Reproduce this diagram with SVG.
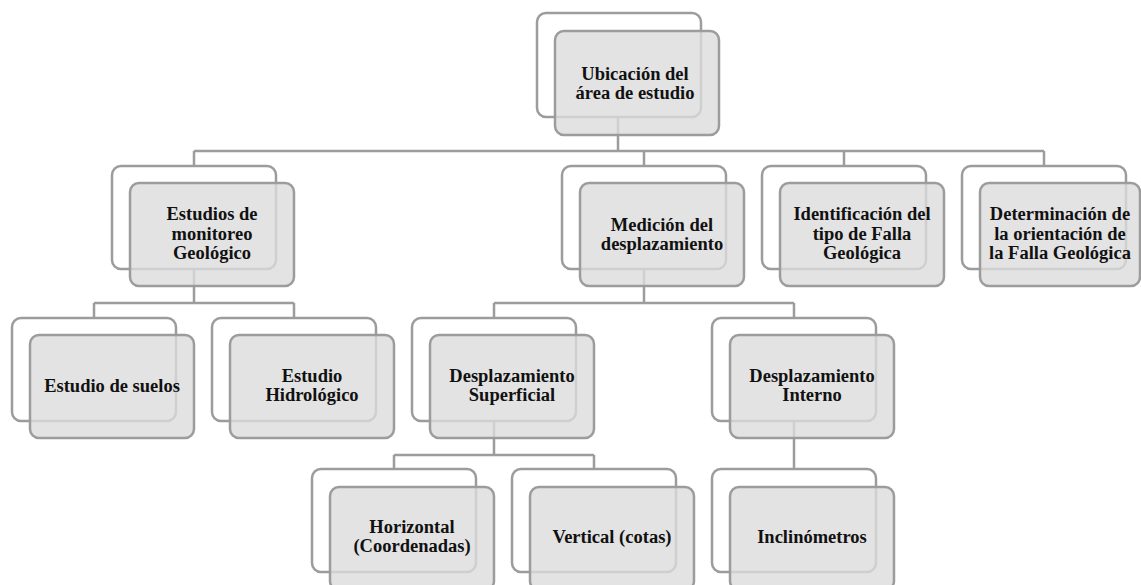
<svg xmlns="http://www.w3.org/2000/svg" width="1141" height="585" viewBox="0 0 1141 585">
<style>
.bg{fill:#ffffff}
.back{fill:#ffffff;stroke:#9c9c9c;stroke-width:2.5}
.front{fill:#dcdcdc;fill-opacity:0.8;stroke:#9c9c9c;stroke-width:2.5}
.conn{fill:none;stroke:#9c9c9c;stroke-width:2.5}
text{font-family:"Liberation Serif","Times New Roman",serif;font-weight:bold;font-size:18.5px;fill:#111;text-anchor:middle}
</style>
<rect class="bg" x="0" y="0" width="1141" height="585"/>
<g id="connectors">
<path class="conn" d="M618,117 V151 M194,151 H1044 M194,151 V166 M644,151 V166 M844,151 V166 M1044,151 V166"/>
<path class="conn" d="M194,269 V303 M94,303 H294 M94,303 V318 M294,303 V318"/>
<path class="conn" d="M644,269 V303 M494,303 H794 M494,303 V318 M794,303 V318"/>
<path class="conn" d="M494,421 V455 M394,455 H594 M394,455 V469 M594,455 V469"/>
<path class="conn" d="M794,421 V469"/>
</g>
<g id="n-ubicacion">
<rect class="back" x="537" y="13" width="164" height="104" rx="9"/>
<rect class="front" x="555" y="31" width="164" height="104" rx="9"/>
<text x="635" y="80">Ubicación del</text>
<text x="635" y="99">área de estudio</text>
</g>
<g id="n-monitoreo">
<rect class="back" x="112" y="166" width="164" height="103" rx="9"/>
<rect class="front" x="130" y="183" width="164" height="103" rx="9"/>
<text x="212" y="220">Estudios de</text>
<text x="212" y="239.5">monitoreo</text>
<text x="212" y="259">Geológico</text>
</g>
<g id="n-medicion">
<rect class="back" x="562" y="166" width="164" height="103" rx="9"/>
<rect class="front" x="580" y="183" width="164" height="103" rx="9"/>
<text x="662" y="231">Medición del</text>
<text x="662" y="250">desplazamiento</text>
</g>
<g id="n-identificacion">
<rect class="back" x="762" y="166" width="164" height="103" rx="9"/>
<rect class="front" x="780" y="183" width="164" height="103" rx="9"/>
<text x="862" y="220">Identificación del</text>
<text x="862" y="239.5">tipo de Falla</text>
<text x="862" y="259">Geológica</text>
</g>
<g id="n-determinacion">
<rect class="back" x="962" y="166" width="164" height="103" rx="9"/>
<rect class="front" x="980" y="183" width="160" height="103" rx="9"/>
<text x="1060" y="220">Determinación de</text>
<text x="1060" y="239.5">la orientación de</text>
<text x="1060" y="259">la Falla Geológica</text>
</g>
<g id="n-suelos">
<rect class="back" x="12" y="318" width="164" height="103" rx="9"/>
<rect class="front" x="30" y="335" width="164" height="103" rx="9"/>
<text x="112" y="392">Estudio de suelos</text>
</g>
<g id="n-hidrologico">
<rect class="back" x="212" y="318" width="164" height="103" rx="9"/>
<rect class="front" x="230" y="335" width="164" height="103" rx="9"/>
<text x="312" y="382">Estudio</text>
<text x="312" y="401">Hidrológico</text>
</g>
<g id="n-superficial">
<rect class="back" x="412" y="318" width="164" height="103" rx="9"/>
<rect class="front" x="430" y="335" width="164" height="103" rx="9"/>
<text x="512" y="382">Desplazamiento</text>
<text x="512" y="401">Superficial</text>
</g>
<g id="n-interno">
<rect class="back" x="712" y="318" width="164" height="103" rx="9"/>
<rect class="front" x="730" y="335" width="164" height="103" rx="9"/>
<text x="812" y="382">Desplazamiento</text>
<text x="812" y="401">Interno</text>
</g>
<g id="n-horizontal">
<rect class="back" x="312" y="469" width="164" height="103" rx="9"/>
<rect class="front" x="330" y="487" width="164" height="103" rx="9"/>
<text x="412" y="533">Horizontal</text>
<text x="412" y="552">(Coordenadas)</text>
</g>
<g id="n-vertical">
<rect class="back" x="512" y="469" width="164" height="103" rx="9"/>
<rect class="front" x="530" y="487" width="164" height="103" rx="9"/>
<text x="612" y="543">Vertical (cotas)</text>
</g>
<g id="n-inclinometros">
<rect class="back" x="712" y="469" width="164" height="103" rx="9"/>
<rect class="front" x="730" y="487" width="164" height="103" rx="9"/>
<text x="812" y="543">Inclinómetros</text>
</g>
</svg>
